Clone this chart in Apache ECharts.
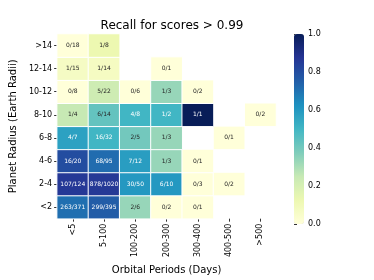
<!DOCTYPE html>
<html><head><meta charset="utf-8">
<script src="https://cdn.jsdelivr.net/npm/echarts@6/dist/echarts.min.js"></script>
<style>html,body{margin:0;padding:0;background:#fff}#c{width:374px;height:280px}</style>
</head><body><div id="c"></div>
<script>
var periods = ['<5','5-100','100-200','200-300','300-400','400-500','>500'];
var radii = ['<2','2-4','4-6','6-8','8-10','10-12','12-14','>14'];
var colorTicks = [0.0,0.2,0.4,0.6,0.8,1.0];
// rows from bottom (<2) to top (>14); null = no cell
var hits = [
  [263,299,2,0,0,null,null],
  [107,878,30,6,0,0,null],
  [16,68,7,1,0,null,null],
  [4,16,2,1,null,0,null],
  [1,6,4,1,1,null,0],
  [0,5,0,1,0,null,null],
  [1,1,null,0,null,null,null],
  [0,1,null,null,null,null,null]
];
var totals = [
  [371,395,6,2,1,null,null],
  [124,1020,50,10,3,2,null],
  [20,95,12,3,1,null,null],
  [7,32,5,3,null,1,null],
  [4,14,8,2,1,null,2],
  [8,22,6,3,2,null,null],
  [15,14,null,1,null,null,null],
  [18,8,null,null,null,null,null]
];
var palette = ['#ffffd9','#edf8b1','#c7e9b4','#7fcdbb','#41b6c4','#1d91c0','#225ea8','#253494','#081d58'];
var data = [];
for (var r = 0; r < radii.length; r++) {
  for (var c = 0; c < periods.length; c++) {
    if (totals[r][c] == null) continue;
    var v = hits[r][c] / totals[r][c];
    data.push({value:[c, r, v, hits[r][c] + '/' + totals[r][c]],
      label:{color: v >= 0.45 ? '#ffffff' : '#262626'}});
  }
}
var font = 'DejaVu Sans';
var chart = echarts.init(document.getElementById('c'));
chart.setOption({
  animation:false,
  title:{text:'Recall for scores > 0.99', left:167, top:15, textAlign:'center',
    textStyle:{fontFamily:font, fontSize:12, fontWeight:'normal', color:'#000'}},
  grid:[{left:56, top:34, width:220, height:190},
        {left:294, top:34, width:10, height:190}],
  xAxis:[{type:'category', data:periods, gridIndex:0,
    name:'Orbital Periods (Days)', nameLocation:'middle', nameGap:44,
    nameTextStyle:{fontFamily:font, fontSize:10, color:'#000'},
    axisLine:{show:false}, splitLine:{show:false},
    axisTick:{show:true, alignWithLabel:true, length:3, lineStyle:{color:'#333'}},
    axisLabel:{rotate:90, fontFamily:font, fontSize:8, color:'#000', margin:5}},
    {type:'value', gridIndex:1, show:false, min:0, max:1}],
  yAxis:[{type:'category', data:radii, gridIndex:0,
    name:'Planet Radius (Earth Radii)', nameLocation:'middle', nameGap:38,
    nameTextStyle:{fontFamily:font, fontSize:10, color:'#000'},
    axisLine:{show:false}, splitLine:{show:false},
    axisTick:{show:true, alignWithLabel:true, length:3, lineStyle:{color:'#333'}},
    axisLabel:{fontFamily:font, fontSize:8, color:'#000', margin:5}},
    {type:'value', gridIndex:1, position:'right', min:0, max:1, interval:0.2,
    axisLine:{show:false}, splitLine:{show:false},
    axisTick:{show:true, length:3, lineStyle:{color:'#333'}},
    axisLabel:{fontFamily:font, fontSize:8, color:'#000', margin:4,
      formatter:function(v){return v.toFixed(1);}}}],
  visualMap:{type:'continuous', min:0, max:1, dimension:2, seriesIndex:0,
    calculable:false, left:294, top:34, itemWidth:10, itemHeight:190, padding:0,
    text:null, showLabel:false, inRange:{color:palette}},
  series:[{type:'heatmap', xAxisIndex:0, yAxisIndex:0, data:data,
    itemStyle:{borderColor:'#ffffff', borderWidth:1},
    label:{show:true, fontFamily:font, fontSize:6,
      formatter:function(p){return p.value[3];}}}]
});
</script></body></html>
